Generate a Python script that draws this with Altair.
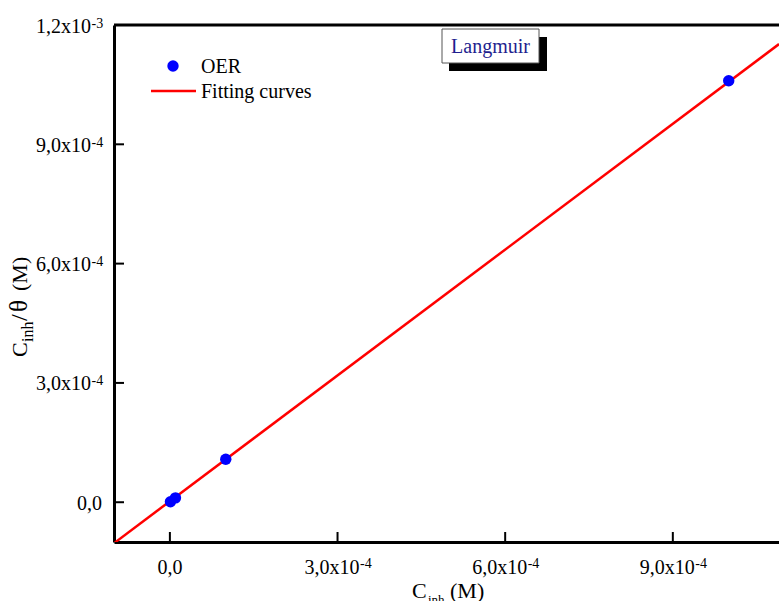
import altair as alt
import pandas as pd

# ---- data ----
c_inh = [1e-6, 1e-5, 1e-4, 1e-3]
c_over_theta = [1.2e-6, 1.1e-5, 1.08e-4, 1.06e-3]
fit_x = [-1.0e-4, 1.09e-3]
fit_y = [-1.03e-4, 1.152e-3]

x_ticks = [0, 3e-4, 6e-4, 9e-4]
x_mantissa = ["0,0", "3,0x10", "6,0x10", "9,0x10"]
x_exponent = ["", "-4", "-4", "-4"]
y_ticks = [0, 3e-4, 6e-4, 9e-4, 1.2e-3]
y_mantissa = ["0,0", "3,0x10", "6,0x10", "9,0x10", "1,2x10"]
y_exponent = ["", "-4", "-4", "-4", "-3"]

legend_labels = ["OER", "Fitting curves"]
box_label = ["Langmuir"]

FONT = "Liberation Serif"
W, H = 665, 517
LBL = 20
SUP = 14

xs = alt.Scale(domain=[-1e-4, 1.09e-3], nice=False, zero=False)
ys = alt.Scale(domain=[-1e-4, 1.2e-3], nice=False, zero=False)

xaxis = alt.Axis(values=x_ticks, labels=False, title=None, ticks=False, tickSize=0,
                 domainColor="black", domainWidth=3, grid=False)
yaxis = alt.Axis(values=y_ticks, labels=False, title=None, ticks=False, tickSize=0,
                 domainColor="black", domainWidth=3, grid=False)

def X(f):
    return alt.X(f, type="quantitative", scale=xs, axis=xaxis)

def Y(f):
    return alt.Y(f, type="quantitative", scale=ys, axis=yaxis)

pts = pd.DataFrame({"x": c_inh, "y": c_over_theta})
fit = pd.DataFrame({"x": fit_x, "y": fit_y})
xlab = pd.DataFrame({"v": x_ticks, "m": x_mantissa, "e": x_exponent})
ylab = pd.DataFrame({"v": y_ticks, "m": y_mantissa, "e": y_exponent})
one = pd.DataFrame({"a": [0]})

fit_line = alt.Chart(fit).mark_line(color="#ff0000", strokeWidth=2.5, clip=True).encode(x=X("x"), y=Y("y"))
points = alt.Chart(pts).mark_point(filled=True, shape="circle", size=130, color="#0000ff", opacity=1).encode(x=X("x"), y=Y("y"))

# inward ticks
xtick_rules = alt.Chart(xlab).mark_rule(color="black", strokeWidth=2).encode(
    x=X("v"), y=alt.value(H), y2=alt.value(H - 10))
ytick_rules = alt.Chart(ylab).mark_rule(color="black", strokeWidth=2).encode(
    y=Y("v"), x=alt.value(0), x2=alt.value(10))
top_line = alt.Chart(one).mark_rule(color="black", strokeWidth=3).encode(
    x=alt.value(0), x2=alt.value(W + 5), y=alt.value(0))

# tick labels: mantissa + superscript exponent
def base_text(**kw):
    d = dict(font=FONT, color="black", baseline="alphabetic")
    d.update(kw)
    return d

x_base = alt.Chart(xlab).transform_filter("datum.e != ''").mark_text(
    **base_text(fontSize=LBL, align="right", dx=22, dy=0)).encode(
    x=X("v"), y=alt.value(H + 32), text="m:N")
x_sup = alt.Chart(xlab).transform_filter("datum.e != ''").mark_text(
    **base_text(fontSize=SUP, align="left", dx=22.5)).encode(
    x=X("v"), y=alt.value(H + 26), text="e:N")
x_zero = alt.Chart(xlab).transform_filter("datum.e == ''").mark_text(
    **base_text(fontSize=LBL, align="center")).encode(
    x=X("v"), y=alt.value(H + 32), text="m:N")

y_base = alt.Chart(ylab).transform_filter("datum.e != ''").mark_text(
    **base_text(fontSize=LBL, align="right", dy=7.5)).encode(
    y=Y("v"), x=alt.value(-23), text="m:N")
y_sup = alt.Chart(ylab).transform_filter("datum.e != ''").mark_text(
    **base_text(fontSize=SUP, align="left", dy=2.5)).encode(
    y=Y("v"), x=alt.value(-22.5), text="e:N")
y_zero = alt.Chart(ylab).transform_filter("datum.e == ''").mark_text(
    **base_text(fontSize=LBL, align="right", dy=7.5)).encode(
    y=Y("v"), x=alt.value(-12), text="m:N")

# legend
leg_pt = alt.Chart(one).mark_point(filled=True, shape="circle", size=130, color="#0000ff", opacity=1).encode(
    x=alt.value(59), y=alt.value(41))
leg_line = alt.Chart(one).mark_rule(color="#ff0000", strokeWidth=2.5).encode(
    x=alt.value(37), x2=alt.value(82), y=alt.value(66))
leg_txt1 = alt.Chart(pd.DataFrame({"t": legend_labels[:1]})).mark_text(
    font=FONT, fontSize=20, align="left", baseline="middle", color="black").encode(
    text="t:N", x=alt.value(87), y=alt.value(42))
leg_txt2 = alt.Chart(pd.DataFrame({"t": legend_labels[1:]})).mark_text(
    font=FONT, fontSize=20, align="left", baseline="middle", color="black").encode(
    text="t:N", x=alt.value(87), y=alt.value(67))

# Langmuir box
shadow = alt.Chart(one).mark_rect(color="black").encode(
    x=alt.value(335), x2=alt.value(433), y=alt.value(12), y2=alt.value(46))
box = alt.Chart(one).mark_rect(fill="white", stroke="#555555", strokeWidth=1).encode(
    x=alt.value(328), x2=alt.value(425), y=alt.value(4), y2=alt.value(38))
box_txt = alt.Chart(pd.DataFrame({"t": box_label})).mark_text(
    font=FONT, fontSize=20, align="center", baseline="middle", color="#1f1f8f").encode(
    text="t:N", x=alt.value(376.5), y=alt.value(22))

# axis titles
def txt(s, x, y, size, angle=0):
    return alt.Chart(pd.DataFrame({"t": [s]})).mark_text(
        font=FONT, fontSize=size, align="left", baseline="alphabetic", color="black", angle=angle).encode(
        text="t:N", x=alt.value(x), y=alt.value(y))

xt1 = txt("C", 298, 573, 22)
xt2 = txt("inh", 314, 579, 13)
xt3 = txt("(M)", 336, 573, 22)
yt1 = txt("C", -87, 332, 22, 270)
yt2 = txt("inh", -81, 317, 16, 270)
yt3 = txt("/", -87, 296, 24, 270)
yt5 = txt("θ", -87, 287, 25, 270)
yt4 = txt("(M)", -87, 266, 22, 270)

chart = alt.layer(
    fit_line, points, xtick_rules, ytick_rules, top_line,
    x_base, x_sup, x_zero, y_base, y_sup, y_zero,
    leg_pt, leg_line, leg_txt1, leg_txt2,
    shadow, box, box_txt,
    xt1, xt2, xt3, yt1, yt2, yt3, yt5, yt4,
).properties(
    width=W, height=H,
    padding={"left": 114, "top": 25, "right": 0, "bottom": 59},
    autosize=alt.AutoSizeParams(type="none"),
).configure_view(stroke=None).configure(background="white")

chart.save("out.html", embed_options={"renderer": "svg", "actions": False})
